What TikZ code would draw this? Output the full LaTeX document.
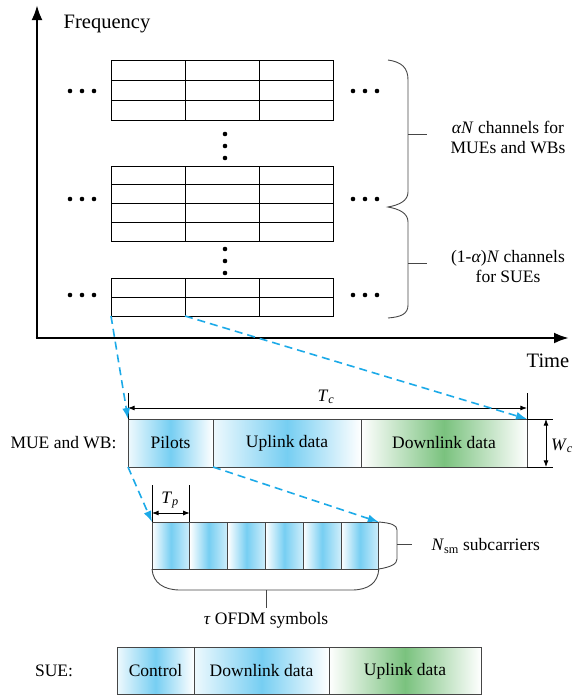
\documentclass[tikz,border=0pt]{standalone}
\usepackage{fontspec}
\setmainfont{Liberation Serif}
\newfontfamily\figserif{Liberation Serif}
\usepackage{tikz}
\usetikzlibrary{arrows.meta,positioning,calc}
\definecolor{cellcyan}{RGB}{118,206,242}
\definecolor{cellgreen}{RGB}{122,194,126}
\definecolor{linkblue}{RGB}{28,170,232}
\definecolor{barline}{RGB}{70,70,70}
\newcommand{\sym}[2]{\textit{#1}\textsubscript{\textit{#2}}}

\begin{document}
\begin{tikzpicture}[>=Latex,x=1pt,y=-1pt,
  every node/.style={font=\figserif\fontsize{17.5}{20}\selectfont},
  axislbl/.style={font=\figserif\fontsize{20.5}{23}\selectfont},
  axisline/.style={line width=2.6pt,-{Latex[length=15pt,width=11pt]}},
  gridline/.style={line width=0.9pt},
  cyancell/.style={draw=barline,line width=0.9pt,inner sep=0pt,outer sep=0pt,minimum height=48pt,
    left color=cellcyan!12,right color=white,middle color=cellcyan},
  greencell/.style={draw=barline,line width=0.9pt,inner sep=0pt,outer sep=0pt,minimum height=48pt,
    left color=white,right color=white,middle color=cellgreen},
  symcell/.style={draw=barline,line width=0.9pt,inner sep=0pt,outer sep=0pt,minimum height=47pt,
    minimum width=37.8pt,left color=white,right color=cellcyan!35,middle color=cellcyan},
  link/.style={linkblue,line width=1.6pt,dash pattern=on 8pt off 5pt,-{Latex[length=11pt,width=8pt]}},
  dimline/.style={line width=0.8pt,<->},
  bracket/.style={line width=0.9pt,barline},
  dot/.style={circle,fill,inner sep=0pt,minimum size=4.6pt}]
\useasboundingbox (0,0) rectangle (573,696);
% axes
\coordinate (origin) at (37,338);
\coordinate (ftop) at (37,5);
\coordinate (tend) at (569,338);
\draw[axisline] (origin) -- (ftop);
\draw[axisline] ([xshift=-1.3pt]origin) -- (tend);
\node[axislbl] (flbl) at (107,24) {Frequency};
\node[axislbl] (tlbl) at (548,361) {Time};
% channel groups
\foreach \y/\n/\h in {60/3/20,166/4/18.75,278/2/19}{
  \foreach \c in {0,1,2}{
    \foreach \r in {1,...,\n}{
      \draw[gridline] (111+74*\c,\y+\h*\r-\h) rectangle ++(74,\h);
    }
  }
}
\coordinate (gbl) at (111,316);
\coordinate (gbm) at (185,316);
% dots
\foreach \y in {91,199,295}{
  \foreach \x in {70,82,94,353,365,377}{
    \node[dot] at (\x,\y) {};
  }
}
\foreach \y in {134,146,158,249,261,273}{
  \node[dot] at (225,\y) {};
}
% braces
\draw[bracket] (388,60) .. controls (402,62) and (408,68) .. (408,80) -- (408,192)
  .. controls (408,201) and (399,205) .. (388,207)
  .. controls (399,209) and (408,213) .. (408,222) -- (408,305)
  .. controls (408,314) and (401,317) .. (388,318);
\draw[bracket] (408,134) -- (427,134);
\draw[bracket] (408,263) -- (427,263);
\node[align=center] (mlbl) at (508,137) {\textit{αN} channels for\\MUEs and WBs};
\node[align=center] (slbl) at (508,267) {(1-\textit{α})\textit{N} channels\\for SUEs};
% MUE and WB frame
\node[cyancell,minimum width=85pt,anchor=west] (pil) at (128,443) {Pilots};
\node[cyancell,minimum width=148pt,right=0pt of pil] (upl) {Uplink data};
\node[greencell,minimum width=166pt,right=0pt of upl] (dnl) {Downlink data};
\node[left=8pt of pil] (mue) {MUE and WB:};
% T_c and W_c
\draw[line width=0.8pt] (pil.north west) -- ++(0,-26);
\draw[line width=0.8pt] (dnl.north east) -- ++(0,-26);
\draw[dimline] ($(pil.north west)+(0,-11)$) -- ($(dnl.north east)+(0,-11)$);
\node (tc) at (326,397) {\sym{T}{c}};
\draw[line width=0.8pt] (dnl.north east) -- ++(26,0);
\draw[line width=0.8pt] (dnl.south east) -- ++(26,0);
\draw[dimline] ($(dnl.north east)+(19,0)$) -- ($(dnl.south east)+(19,0)$);
\node (wc) at (562,446) {\sym{W}{c}};
% OFDM symbols
\node[symcell,anchor=north west] (s1) at (152,522) {};
\foreach \i [remember=\i as \j (initially 1)] in {2,...,6}{
  \node[symcell,right=0pt of s\j] (s\i) {};
}
\draw[line width=0.8pt] (s1.north west) -- ++(0,-37);
\draw[line width=0.8pt] (s1.north east) -- ++(0,-37);
\draw[dimline,<->] ($(s1.north west)+(0,-9)$) -- ($(s1.north east)+(0,-9)$);
\node (tp) at (170,500) {\sym{T}{p}};
\draw[bracket] (s6.north east) .. controls (391,523) and (397,525) .. (397,530) -- (397,559)
  .. controls (397,564) and (391,567) .. (s6.south east);
\draw[bracket] (397,544) -- (412,544);
\node[anchor=west] (nsm) at (428,546) {\textit{N}\textsubscript{sm} subcarriers};
\draw[bracket] (s1.south west) .. controls (153,583) and (164,590) .. (180,590) -- (352,590)
  .. controls (368,590) and (378,583) .. (s6.south east);
\draw[bracket] (266,590) -- (266,608);
\node (tau) at (266,620) {\textit{τ} OFDM symbols};
% SUE frame
\node[cyancell,minimum width=77pt,minimum height=47pt,anchor=west] (ctl) at (117,671) {Control};
\node[cyancell,minimum width=135pt,minimum height=47pt,right=0pt of ctl] (sdl) {Downlink data};
\node[greencell,minimum width=152pt,minimum height=47pt,right=0pt of sdl] (sul) {Uplink data};
\node (sue) at (54,671) {SUE:};
% zoom links
\draw[link] (gbl) -- (pil.north west);
\draw[link] (gbm) -- (dnl.north east);
\draw[link] (pil.south west) -- (s1.north west);
\draw[link] (pil.south east) -- (s6.north east);
\end{tikzpicture}
\end{document}
